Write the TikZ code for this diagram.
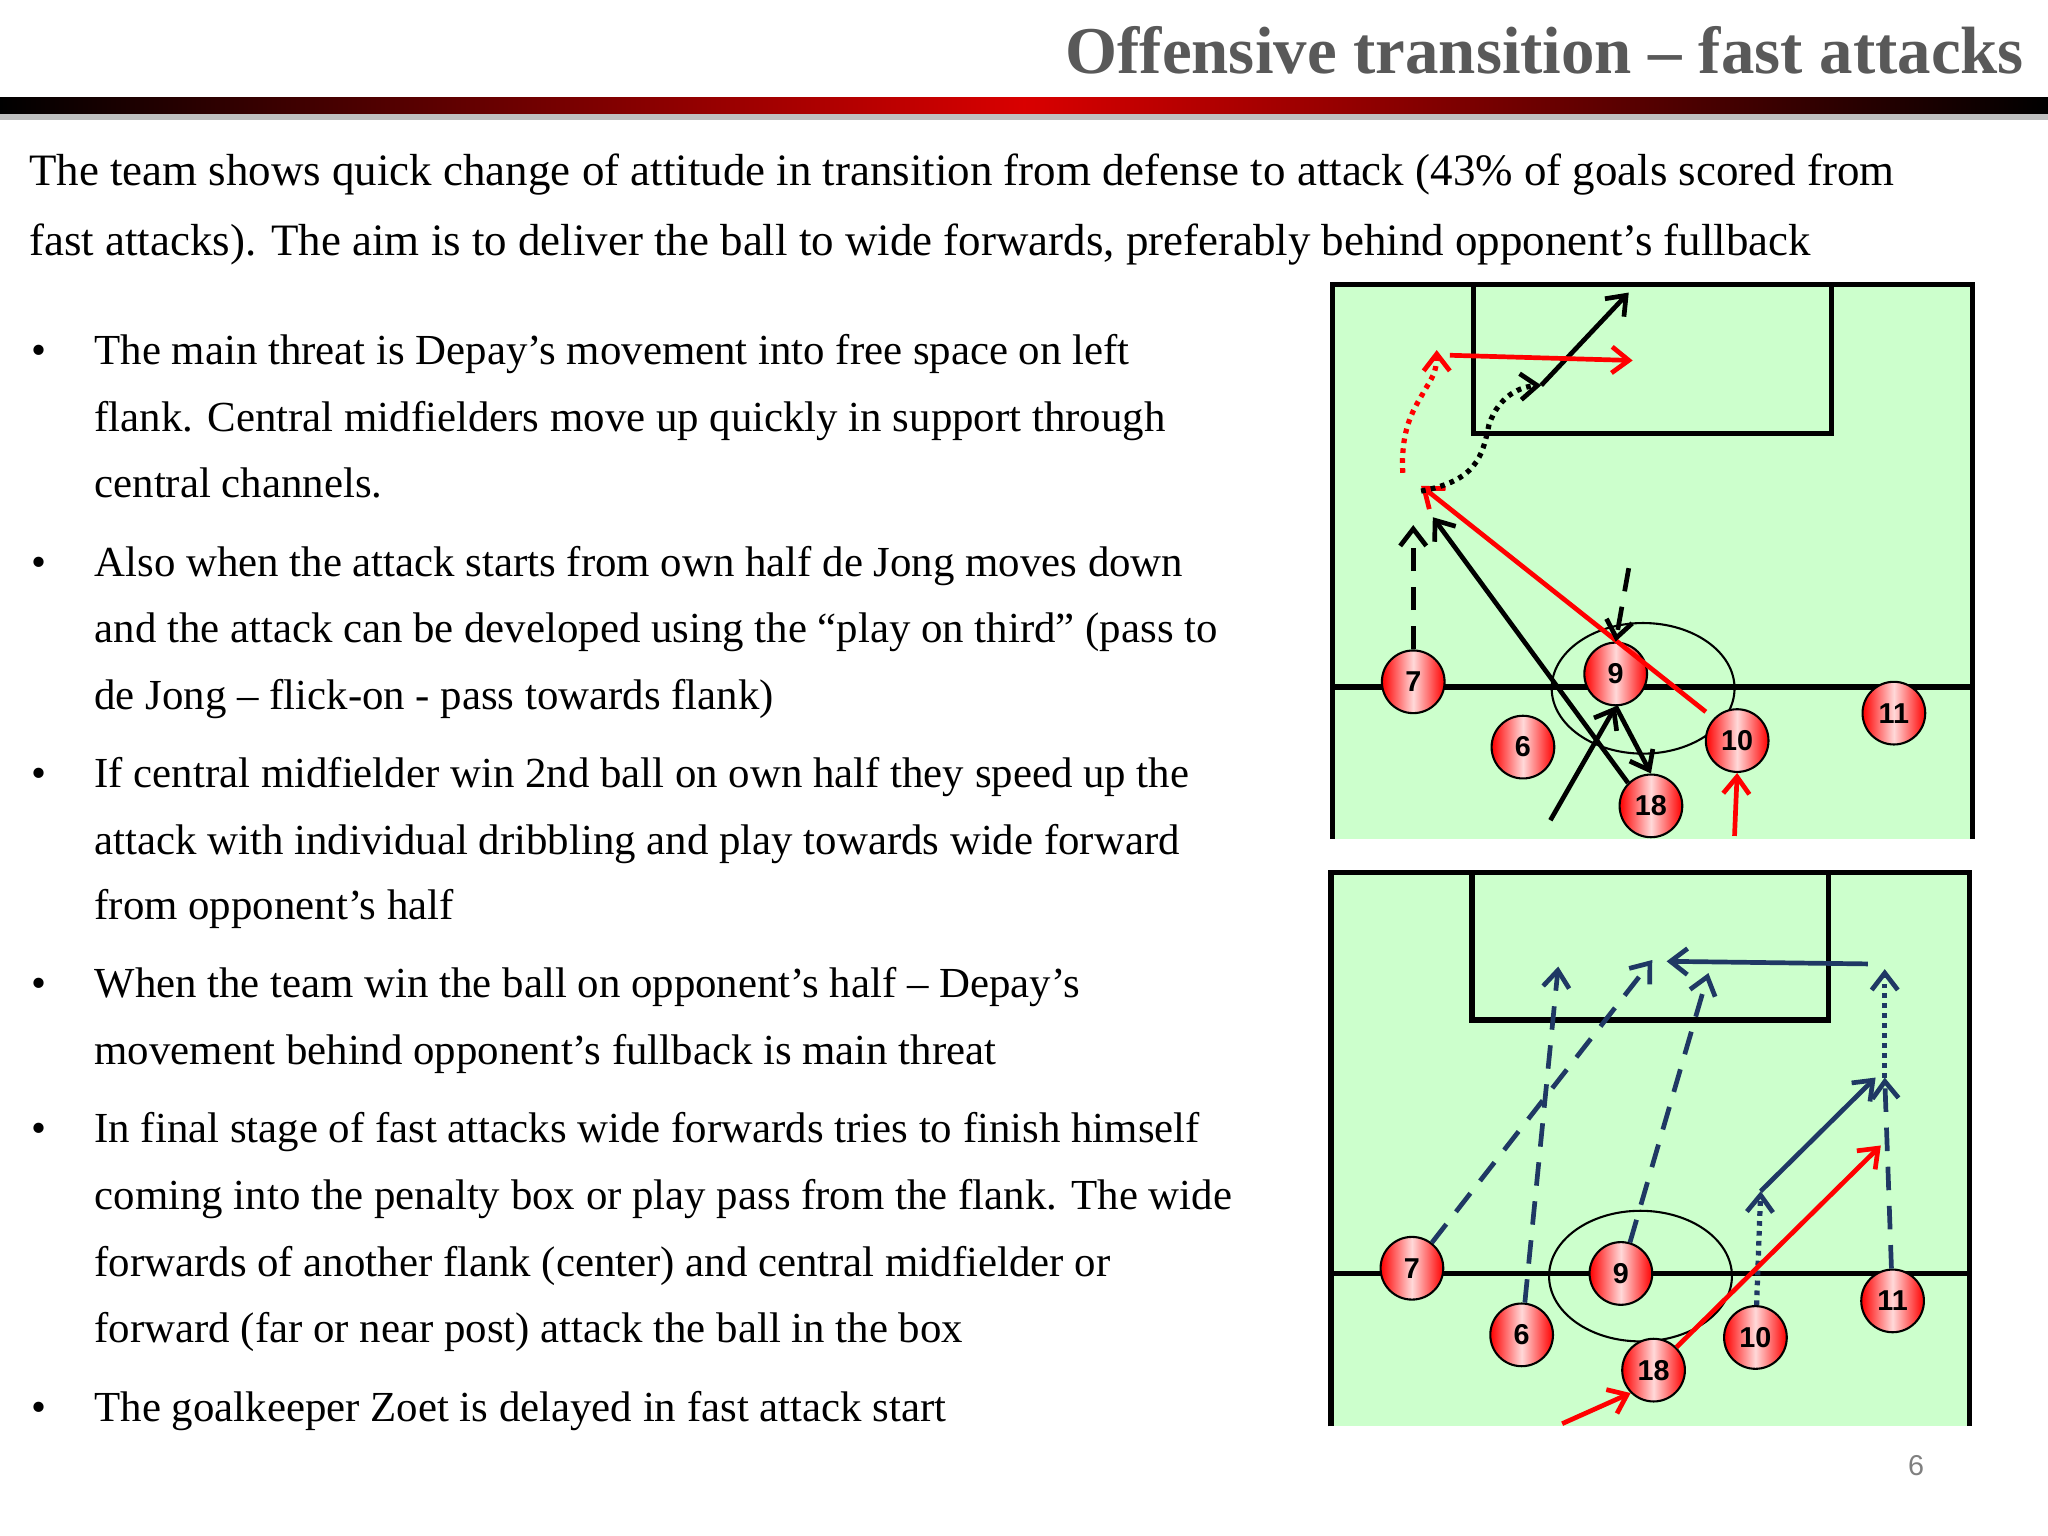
\documentclass[tikz,border=0pt]{standalone}
\usepackage{fontspec}
\setmainfont{Liberation Serif}
\newfontfamily\numfont{Liberation Sans}
\usetikzlibrary{arrows.meta}
\definecolor{pitch}{HTML}{CCFFCC}
\definecolor{navy}{HTML}{1F3864}
\definecolor{titlegray}{HTML}{595959}
\tikzset{
 player/.style={circle,draw=black,line width=0.8pt,minimum size=24pt,inner sep=0pt,
   left color=red,right color=red,middle color=white!85!red,font=\numfont\bfseries\fontsize{11}{11}\selectfont},
 mv/.style={line width=1.8pt,-{Straight Barb[length=6.5pt,width=10pt,line width=1.8pt]}},
 bline/.style={line width=2pt},
 body/.style={anchor=base west,inner sep=0pt,font=\fontsize{17.2}{20}\selectfont},
 btxt/.style={anchor=base west,inner sep=0pt,font=\fontsize{16.4}{20}\selectfont},
 bul/.style={anchor=base,inner sep=0pt,font=\fontsize{16.4}{20}\selectfont},
}
\begin{document}
\begin{tikzpicture}[x=0.5pt,y=-0.5pt]
\useasboundingbox (0,0) rectangle (1568,1176);
\fill[white] (0,0) rectangle (1568,1176);
% header
\node[anchor=base east,inner sep=0pt,text=titlegray,font=\fontsize{25.6}{28}\selectfont\bfseries] (title) at (1550,56) {Offensive transition -- fast attacks};
\fill[black!25] (0,86) rectangle (1568,92);
\shade[left color=black,right color=black,middle color=red!85!black] (0,75) rectangle (1568,87);
% intro
\node[body] (i1) at (22,142) {The team shows quick change of attitude in transition from defense to attack (43\% of goals scored from};
\node[body] (i2) at (22,196) {fast attacks). The aim is to deliver the ball to wide forwards, preferably behind opponent’s fullback};
% bullets
\foreach \y in {279,441,603,764,875,1088} {\node[bul] at (30,\y) {•};}
\node[btxt] at (72,279) {The main threat is Depay’s movement into free space on left};
\node[btxt] at (72,330) {flank. Central midfielders move up quickly in support through};
\node[btxt] at (72,381) {central channels.};
\node[btxt] at (72,441) {Also when the attack starts from own half de Jong moves down};
\node[btxt] at (72,492) {and the attack can be developed using the “play on third” (pass to};
\node[btxt] at (72,543) {de Jong -- flick-on - pass towards flank)};
\node[btxt] at (72,603) {If central midfielder win 2nd ball on own half they speed up the};
\node[btxt] at (72,654) {attack with individual dribbling and play towards wide forward};
\node[btxt] at (72,704) {from opponent’s half};
\node[btxt] at (72,764) {When the team win the ball on opponent’s half -- Depay’s};
\node[btxt] at (72,815) {movement behind opponent’s fullback is main threat};
\node[btxt] at (72,875) {In final stage of fast attacks wide forwards tries to finish himself};
\node[btxt] at (72,926) {coming into the penalty box or play pass from the flank. The wide};
\node[btxt] at (72,977) {forwards of another flank (center) and central midfielder or};
\node[btxt] at (72,1028) {forward (far or near post) attack the ball in the box};
\node[btxt] at (72,1088) {The goalkeeper Zoet is delayed in fast attack start};
\node[text=black!50,font=\numfont\fontsize{11}{11}\selectfont] (pg) at (1467,1122) {6};

% ===== top pitch =====
\fill[pitch] (1020,218) rectangle (1510,642);
\draw[bline] (1020,642) -- (1020,218) -- (1510,218) -- (1510,642);
\draw[bline] (1020,526) -- (1510,526);
\draw[bline] (1128,218) -- (1128,332) -- (1402,332) -- (1402,218);
\draw[line width=0.8pt] (1258,527) ellipse [x radius=70,y radius=50];
\coordinate (a7e) at (1082,402);
\coordinate (a18e) at (1097,396);
\coordinate (r10e) at (1088,372);
\coordinate (bd0) at (1088,376);
\coordinate (bd1) at (1180,295);
\coordinate (bs1) at (1247,224);
\coordinate (rd0) at (1074,362);
\coordinate (rd1) at (1100,268);
\coordinate (rs0) at (1110,272);
\coordinate (rs1) at (1250,276);
\coordinate (d9s) at (1247,435);
\coordinate (b18s) at (1187,628);
\coordinate (r10s) at (1328,640);
\node[player] (t7) at (1082,522) {7};
\node[player] (t9) at (1237,516) {9};
\node[player] (t6) at (1166,572) {6};
\node[player] (t10) at (1330,567) {10};
\node[player] (t11) at (1450,546) {11};
\node[player] (t18) at (1264,617) {18};
\draw[mv,dash pattern=on 9pt off 6pt] (t7) -- (a7e);
\draw[mv] (t18.north west) -- (a18e);
\draw[mv,red] (1306,545) -- (r10e);
\draw[mv,dotted,line width=2pt] (bd0) .. controls (1130,368) and (1135,350) .. (1140,325) .. controls (1148,302) and (1165,296) .. (bd1);
\draw[mv] (bd1) -- (bs1);
\draw[mv,red,dotted,line width=2pt] (rd0) .. controls (1072,325) and (1085,310) .. (1090,300) .. controls (1096,290) and (1100,285) .. (rd1);
\draw[mv,red] (rs0) -- (rs1);
\draw[mv,dash pattern=on 9pt off 6pt] (d9s) -- (t9.north);
\draw[mv] (b18s) -- (t9.south);
\draw[mv] (t9.south) -- (t18.north);
\draw[mv,red] (r10s) -- (t10.south);

% ===== bottom pitch =====
\fill[pitch] (1019,668) rectangle (1508,1092);
\draw[bline] (1019,1092) -- (1019,668) -- (1508,668) -- (1508,1092);
\draw[bline] (1019,975) -- (1508,975);
\draw[bline] (1127,668) -- (1127,781) -- (1400,781) -- (1400,668);
\draw[line width=0.8pt] (1256,977) ellipse [x radius=70,y radius=50];
\node[player] (b7) at (1081,971) {7};
\node[player] (b9) at (1241,975) {9};
\node[player] (b6) at (1165,1022) {6};
\node[player] (b10) at (1344,1024) {10};
\node[player] (b11) at (1449,996) {11};
\node[player] (b18) at (1266,1049) {18};
\coordinate (n7e) at (1265,735);
\coordinate (n6e) at (1193,740);
\coordinate (n9e) at (1308,745);
\coordinate (hs) at (1430,738);
\coordinate (he) at (1276,736);
\coordinate (n11m) at (1443,825);
\coordinate (n11e) at (1443,742);
\coordinate (n10m) at (1348,912);
\coordinate (n10e) at (1436,825);
\coordinate (rre) at (1440,877);
\coordinate (rls) at (1196,1090);
\begin{scope}[navy]
\draw[mv,dash pattern=on 9pt off 6pt] (b7) -- (n7e);
\draw[mv,dash pattern=on 9pt off 6pt] (b6) -- (n6e);
\draw[mv,dash pattern=on 9pt off 6pt] (b9) -- (n9e);
\draw[mv] (hs) -- (he);
\draw[mv,dash pattern=on 9pt off 6pt] (b11) -- (n11m);
\draw[mv,dotted,line width=2pt] (n11m) -- (n11e);
\draw[mv,dotted,line width=2pt] (b10) -- (n10m);
\draw[mv] (n10m) -- (n10e);
\end{scope}
\draw[mv,red] (b18.north east) -- (rre);
\draw[mv,red] (rls) -- (b18.south west);
\end{tikzpicture}
\end{document}
